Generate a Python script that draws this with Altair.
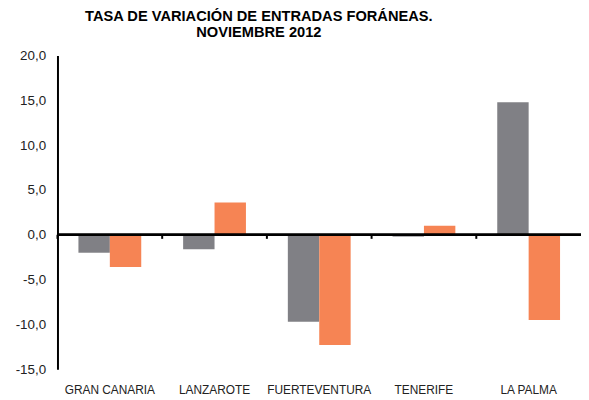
import altair as alt
import pandas as pd

categorias = ["GRAN CANARIA", "LANZAROTE", "FUERTEVENTURA", "TENERIFE", "LA PALMA"]
series = ["Serie 1", "Serie 2"]
valores_serie1 = [-2.0, -1.6, -9.7, -0.2, 14.8]
valores_serie2 = [-3.6, 3.6, -12.3, 1.0, -9.5]
colores = ["#808085", "#F68454"]
ticks_y = [-15, -10, -5, 0, 5, 10, 15, 20]

rows = []
for i, c in enumerate(categorias):
    rows.append({"isla": c, "serie": series[0], "valor": valores_serie1[i]})
    rows.append({"isla": c, "serie": series[1], "valor": valores_serie2[i]})
df = pd.DataFrame(rows)
df_cat = pd.DataFrame({"isla": categorias, "cero": [0.0] * 5, "marca": [-0.45] * 5})

W, H = 529, 317
xscale = alt.Scale(domain=categorias, paddingInner=0, paddingOuter=0)
yscale = alt.Scale(domain=[-15, 20], nice=False, zero=False)
xaxis = alt.Axis(title=None, orient="bottom", domain=False, ticks=False,
                 labelAngle=0, labelPadding=16,
                 labelFont="Liberation Sans", labelFontSize=12,
                 labelColor="#222222", grid=False)
yaxis = alt.Axis(title=None, values=ticks_y, grid=False, ticks=False,
                 labelExpr="replace(replace(format(datum.value, '.1f'), '.', ','), '\u2212', '-')",
                 labelFont="Liberation Sans", labelFontSize=13.5,
                 labelColor="#222222", labelPadding=12,
                 domainColor="#000000", domainWidth=2, zindex=1)

bars = alt.Chart(df).mark_bar().encode(
    x=alt.X("isla:N", sort=categorias, scale=xscale, axis=xaxis),
    xOffset=alt.XOffset("serie:N", sort=series,
                        scale=alt.Scale(paddingInner=0, paddingOuter=0.667)),
    y=alt.Y("valor:Q", scale=yscale, axis=yaxis),
    color=alt.Color("serie:N", scale=alt.Scale(domain=series, range=colores), legend=None),
)

zero_line = alt.Chart(df_cat).mark_rule(color="#000000", strokeWidth=2).encode(
    y=alt.Y("cero:Q", scale=yscale, axis=yaxis),
)

ticks = alt.Chart(df_cat).mark_rule(color="#000000", strokeWidth=2).encode(
    x=alt.X("isla:N", sort=categorias, bandPosition=0, scale=xscale, axis=xaxis),
    y=alt.Y("cero:Q", scale=yscale, axis=yaxis),
    y2=alt.Y2("marca:Q"),
)

chart = alt.layer(bars, zero_line, ticks).properties(
    width=W,
    height=H,
    autosize=alt.AutoSizeParams(type="none"),
    padding={"left": 50, "top": 46, "right": 0, "bottom": 27},
    title=alt.TitleParams(
        text=["TASA DE VARIACIÓN DE ENTRADAS FORÁNEAS.", "NOVIEMBRE 2012"],
        font="Liberation Sans", fontSize=14.8, fontWeight="bold", color="#000000",
        anchor="middle", dx=-61, offset=9, lineHeight=16,
    ),
).configure_view(stroke=None)

chart.save("out.html", embed_options={"renderer": "svg", "actions": False})
